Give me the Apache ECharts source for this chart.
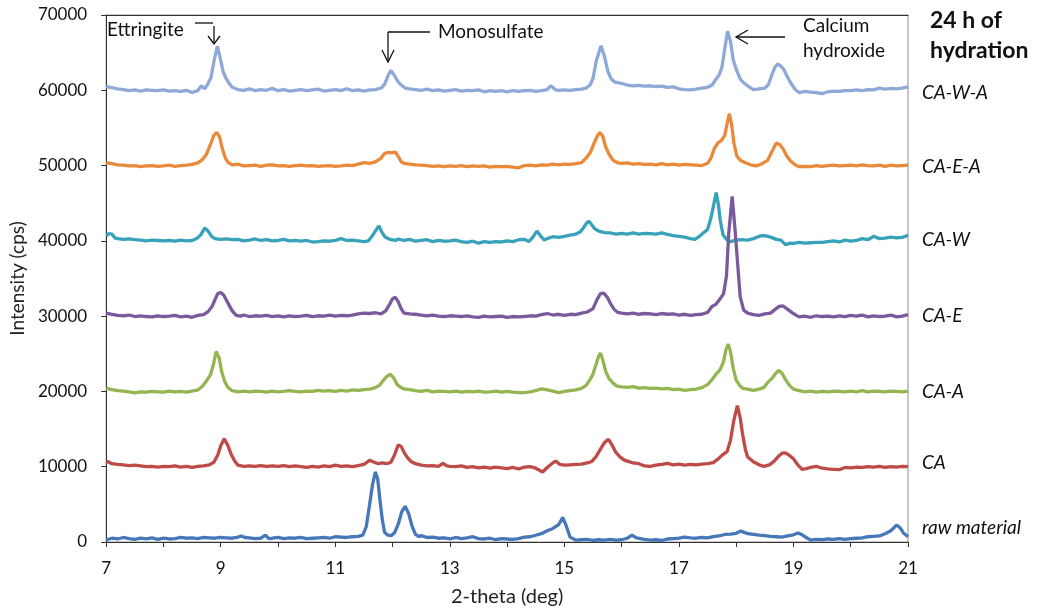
<!DOCTYPE html>
<html>
<head>
<meta charset="utf-8">
<script src="https://cdn.jsdelivr.net/npm/echarts@6/dist/echarts.min.js"></script>
<style>
  html, body { margin: 0; padding: 0; background: #fff; }
  #xrd { width: 1042px; height: 614px; }
</style>
</head>
<body>
<div id="xrd"></div>
<script>
// XRD patterns after 24 h of hydration, [2-theta, cps]
var caWA = [[7.0,60500],[7.1,60350],[7.2,60200],[7.3,60100],[7.4,59950],[7.5,60050],[7.6,59900],[7.7,60050],[7.8,60000],[7.9,59950],[8.0,60050],[8.1,59900],[8.2,59950],[8.3,59850],[8.4,60000],[8.5,59700],[8.6,59950],[8.66,60600],[8.72,60200],[8.78,60900],[8.83,61700],[8.88,63800],[8.94,65850],[8.99,64300],[9.04,62500],[9.09,61600],[9.14,61000],[9.2,60400],[9.3,60100],[9.4,60000],[9.5,60200],[9.6,59950],[9.7,60100],[9.8,60000],[9.9,60250],[10.0,59950],[10.1,60100],[10.2,59900],[10.3,60000],[10.4,60100],[10.5,59950],[10.6,60050],[10.7,60150],[10.8,59900],[10.9,60000],[11.0,60100],[11.1,59950],[11.2,60200],[11.3,59950],[11.4,60050],[11.5,59900],[11.6,60050],[11.7,60100],[11.8,60300],[11.86,60800],[11.92,61900],[11.97,62650],[12.03,62000],[12.09,61200],[12.15,60700],[12.22,60300],[12.3,60200],[12.4,60100],[12.5,60000],[12.6,60150],[12.7,59950],[12.8,60050],[12.9,59900],[13.0,60000],[13.1,60100],[13.2,59900],[13.3,60000],[13.4,59950],[13.5,60050],[13.6,59800],[13.7,59950],[13.8,59850],[13.9,59950],[14.0,59800],[14.1,59950],[14.2,59850],[14.3,59950],[14.4,60000],[14.5,59850],[14.6,59950],[14.7,60100],[14.76,60600],[14.85,60050],[14.9,60000],[15.0,60050],[15.1,60000],[15.2,60100],[15.3,60150],[15.38,60300],[15.45,60700],[15.5,61600],[15.56,64000],[15.64,65900],[15.7,64500],[15.76,62500],[15.82,61500],[15.88,61100],[15.95,61000],[16.0,60900],[16.1,60700],[16.2,60600],[16.3,60650],[16.4,60550],[16.5,60600],[16.6,60500],[16.7,60550],[16.8,60400],[16.9,60450],[17.0,60200],[17.1,60100],[17.2,60050],[17.3,60150],[17.4,60300],[17.5,60400],[17.58,60700],[17.65,61500],[17.7,62000],[17.75,63000],[17.8,65500],[17.85,67850],[17.9,66500],[17.95,64000],[18.0,62800],[18.07,61500],[18.13,61000],[18.2,60600],[18.3,60100],[18.4,60200],[18.5,60300],[18.56,60700],[18.62,62000],[18.68,63100],[18.73,63500],[18.78,63200],[18.83,62800],[18.88,62000],[18.95,61000],[19.03,60100],[19.1,59700],[19.2,59850],[19.3,59750],[19.4,59700],[19.5,59550],[19.6,59800],[19.7,59900],[19.8,59850],[19.9,59950],[20.0,59950],[20.1,60050],[20.2,59950],[20.3,60100],[20.4,60050],[20.5,60300],[20.6,60150],[20.7,60250],[20.8,60200],[20.9,60300],[21.0,60450]];

var caEA = [[7.0,50400],[7.1,50250],[7.2,50100],[7.3,50050],[7.4,49950],[7.5,50000],[7.6,49850],[7.7,49950],[7.8,50000],[7.9,49900],[8.0,49950],[8.1,50050],[8.2,49900],[8.3,50000],[8.4,50050],[8.5,50150],[8.6,50350],[8.68,50800],[8.75,51500],[8.82,52800],[8.88,54000],[8.93,54400],[8.98,53800],[9.03,52200],[9.08,51000],[9.13,50400],[9.2,50100],[9.3,50200],[9.4,49950],[9.5,50000],[9.6,50050],[9.7,49900],[9.8,50050],[9.9,50100],[10.0,49950],[10.1,50000],[10.2,49900],[10.3,50000],[10.4,50050],[10.5,49950],[10.6,50000],[10.7,49900],[10.8,49950],[10.9,50000],[11.0,49900],[11.1,49950],[11.2,50050],[11.3,50000],[11.4,50200],[11.5,50400],[11.6,50300],[11.7,50500],[11.8,51000],[11.86,51600],[11.92,51750],[11.98,51700],[12.05,51800],[12.1,51200],[12.15,50500],[12.2,50300],[12.3,50200],[12.4,50100],[12.5,50050],[12.6,50000],[12.7,49900],[12.8,49950],[12.9,49850],[13.0,49950],[13.1,49900],[13.2,50000],[13.3,49850],[13.4,49950],[13.5,49900],[13.6,49950],[13.7,49800],[13.8,49900],[13.9,49850],[14.0,49900],[14.1,49800],[14.2,49700],[14.3,50000],[14.4,50050],[14.5,49950],[14.6,50100],[14.7,50050],[14.8,50200],[14.9,50100],[15.0,50200],[15.1,50150],[15.2,50250],[15.3,50400],[15.38,51000],[15.45,51700],[15.52,53000],[15.58,54000],[15.62,54400],[15.67,53900],[15.72,52500],[15.78,51500],[15.85,50700],[15.92,50400],[16.0,50300],[16.1,50350],[16.2,50200],[16.3,50250],[16.4,50150],[16.5,50200],[16.6,50100],[16.7,50250],[16.8,50100],[16.9,50200],[17.0,50050],[17.1,50150],[17.2,50100],[17.3,50050],[17.4,50000],[17.5,50300],[17.56,51000],[17.62,52300],[17.68,53000],[17.74,53300],[17.8,54000],[17.84,55500],[17.88,56900],[17.92,55500],[17.96,53000],[18.01,51300],[18.07,50700],[18.15,50400],[18.25,50100],[18.35,49950],[18.45,50250],[18.55,50700],[18.62,51800],[18.7,53000],[18.76,52800],[18.82,52200],[18.88,51300],[18.95,50600],[19.03,50100],[19.1,49850],[19.2,49900],[19.3,49850],[19.4,50000],[19.5,49900],[19.6,50000],[19.7,50050],[19.8,49950],[19.9,50000],[20.0,50050],[20.1,49950],[20.2,50100],[20.3,50000],[20.4,49950],[20.5,50050],[20.6,49900],[20.7,50050],[20.8,49950],[20.9,50000],[21.0,50050]];

var caW = [[7.0,40700],[7.05,40950],[7.1,40900],[7.15,40400],[7.2,40300],[7.3,40200],[7.4,40250],[7.5,40150],[7.6,40100],[7.7,40000],[7.8,40100],[7.9,40050],[8.0,40000],[8.1,40050],[8.2,39950],[8.3,40100],[8.4,40000],[8.5,40050],[8.58,40300],[8.65,40800],[8.72,41700],[8.78,41300],[8.84,40600],[8.9,40300],[9.0,40200],[9.1,40250],[9.2,40150],[9.3,40200],[9.4,40000],[9.5,40100],[9.6,40250],[9.7,40050],[9.8,40150],[9.9,40000],[10.0,40050],[10.1,40200],[10.2,40000],[10.3,40050],[10.4,39950],[10.5,40050],[10.6,39850],[10.7,39900],[10.8,40000],[10.9,39950],[11.0,40050],[11.1,40300],[11.2,40050],[11.3,40100],[11.4,40000],[11.5,39900],[11.58,40000],[11.64,40600],[11.7,41300],[11.76,42000],[11.81,41200],[11.87,40500],[11.95,40200],[12.05,40050],[12.1,40250],[12.2,40050],[12.3,40200],[12.4,39950],[12.5,40050],[12.6,40150],[12.7,39900],[12.8,40050],[12.9,39950],[13.0,40000],[13.1,40100],[13.2,39900],[13.3,39800],[13.4,39950],[13.5,39700],[13.6,39900],[13.7,39800],[13.8,39900],[13.9,39850],[14.0,40000],[14.1,39900],[14.2,40150],[14.3,40200],[14.38,39900],[14.45,40500],[14.52,41300],[14.58,40700],[14.65,40100],[14.7,40300],[14.8,40550],[14.9,40450],[15.0,40600],[15.1,40750],[15.2,40900],[15.28,41200],[15.34,41800],[15.39,42400],[15.43,42600],[15.48,42100],[15.53,41600],[15.6,41300],[15.7,41100],[15.8,41050],[15.9,40900],[16.0,41000],[16.1,40900],[16.2,41050],[16.3,40900],[16.4,41000],[16.5,40950],[16.6,40900],[16.7,41050],[16.8,40850],[16.9,40700],[17.0,40600],[17.1,40500],[17.2,40300],[17.28,40200],[17.35,40550],[17.42,41000],[17.5,41500],[17.55,42800],[17.6,44500],[17.65,46400],[17.69,44800],[17.72,42800],[17.77,40800],[17.83,40200],[17.9,39900],[17.95,40000],[18.0,40100],[18.1,40150],[18.2,40100],[18.3,40300],[18.42,40650],[18.5,40700],[18.6,40500],[18.7,40200],[18.78,40100],[18.86,39500],[18.95,39700],[19.0,39650],[19.1,39800],[19.2,39700],[19.3,39750],[19.4,39800],[19.5,39800],[19.6,39900],[19.7,40000],[19.8,39850],[19.9,40100],[20.0,39950],[20.1,40050],[20.2,40300],[20.3,40150],[20.4,40600],[20.5,40300],[20.6,40350],[20.7,40500],[20.8,40400],[20.9,40450],[21.0,40750]];

var caE = [[7.0,30400],[7.1,30250],[7.2,30100],[7.3,30050],[7.4,30150],[7.5,29950],[7.6,30050],[7.7,29950],[7.8,29900],[7.9,30050],[8.0,29950],[8.1,30000],[8.2,30100],[8.3,29900],[8.4,30000],[8.5,29850],[8.6,30100],[8.7,30200],[8.78,30600],[8.85,31300],[8.9,32200],[8.95,33000],[9.0,33150],[9.05,32800],[9.1,32100],[9.15,31400],[9.2,30700],[9.27,30100],[9.35,30000],[9.4,30150],[9.5,29950],[9.6,30050],[9.7,30000],[9.8,30100],[9.9,29950],[10.0,30050],[10.1,29900],[10.2,30050],[10.3,29950],[10.4,30000],[10.5,30100],[10.6,29950],[10.7,30050],[10.8,30000],[10.9,30150],[11.0,30000],[11.1,30100],[11.2,30050],[11.3,30150],[11.4,30300],[11.5,30400],[11.6,30350],[11.7,30450],[11.8,30300],[11.88,30700],[11.95,31600],[12.0,32300],[12.05,32500],[12.1,31900],[12.15,31000],[12.2,30400],[12.3,30300],[12.4,30250],[12.5,30150],[12.6,30050],[12.7,30150],[12.8,30000],[12.9,29950],[13.0,30050],[13.1,30000],[13.2,29950],[13.3,30050],[13.4,29900],[13.5,29850],[13.6,30000],[13.7,29900],[13.8,29950],[13.9,30000],[14.0,29850],[14.1,29950],[14.2,29900],[14.3,29950],[14.4,30050],[14.5,30000],[14.6,30200],[14.7,30350],[14.8,30150],[14.9,30250],[15.0,30100],[15.1,30250],[15.2,30200],[15.3,30400],[15.4,30550],[15.5,31000],[15.57,32200],[15.63,33000],[15.69,33050],[15.75,32500],[15.81,31600],[15.87,30900],[15.93,30500],[16.0,30400],[16.1,30300],[16.2,30400],[16.3,30250],[16.4,30350],[16.5,30300],[16.6,30200],[16.7,30350],[16.8,30250],[16.9,30300],[17.0,30150],[17.1,30250],[17.2,30100],[17.3,30200],[17.4,30250],[17.5,30500],[17.58,31300],[17.65,31600],[17.72,32300],[17.78,33000],[17.83,35300],[17.87,41000],[17.93,45900],[17.98,41500],[18.02,37500],[18.07,32600],[18.13,30800],[18.2,30400],[18.3,30200],[18.4,30100],[18.5,30300],[18.6,30400],[18.68,30900],[18.75,31300],[18.82,31350],[18.9,30900],[18.97,30500],[19.05,30100],[19.1,29900],[19.2,30000],[19.3,29850],[19.4,30050],[19.5,29950],[19.6,30000],[19.7,29900],[19.8,30050],[19.9,29950],[20.0,30100],[20.1,30000],[20.2,30150],[20.3,29900],[20.4,30050],[20.5,29950],[20.6,30000],[20.7,30150],[20.8,29900],[20.9,30000],[21.0,30200]];

var caA = [[7.0,20400],[7.1,20250],[7.2,20100],[7.3,20050],[7.4,19950],[7.5,19800],[7.6,19950],[7.7,19900],[7.8,20000],[7.9,19950],[8.0,19900],[8.1,20050],[8.2,19950],[8.3,20000],[8.4,19900],[8.5,20050],[8.6,20200],[8.68,20700],[8.76,21500],[8.82,22200],[8.87,23500],[8.92,25300],[8.97,24500],[9.02,22500],[9.07,21300],[9.12,20600],[9.2,20100],[9.3,19950],[9.4,20050],[9.5,19950],[9.6,20050],[9.7,20000],[9.8,19900],[9.9,20050],[10.0,19950],[10.1,20000],[10.2,20100],[10.3,20000],[10.4,19950],[10.5,20050],[10.6,20000],[10.7,20150],[10.8,20050],[10.9,20100],[11.0,20000],[11.1,20150],[11.2,20050],[11.3,20200],[11.4,20150],[11.5,20250],[11.6,20300],[11.7,20500],[11.77,20800],[11.83,21400],[11.9,22000],[11.96,22300],[12.02,21800],[12.08,20900],[12.15,20500],[12.22,20300],[12.3,20250],[12.4,20100],[12.5,20000],[12.6,20150],[12.7,19950],[12.8,20050],[12.9,20000],[13.0,19950],[13.1,20050],[13.2,19900],[13.3,20000],[13.4,19950],[13.5,20050],[13.6,19900],[13.7,19950],[13.8,20050],[13.9,19900],[14.0,20000],[14.1,19900],[14.2,19850],[14.3,19850],[14.4,19950],[14.5,20100],[14.6,20350],[14.7,20200],[14.8,20050],[14.9,19850],[15.0,20000],[15.1,20100],[15.2,20200],[15.3,20400],[15.38,20800],[15.45,21600],[15.5,22300],[15.55,23500],[15.6,24700],[15.63,25100],[15.67,24200],[15.72,22700],[15.78,21700],[15.85,21100],[15.92,20700],[16.0,20600],[16.1,20550],[16.2,20650],[16.3,20450],[16.4,20500],[16.5,20400],[16.6,20450],[16.7,20350],[16.8,20400],[16.9,20250],[17.0,20300],[17.1,20150],[17.2,20250],[17.3,20300],[17.4,20500],[17.5,20900],[17.58,21600],[17.65,22300],[17.72,22900],[17.78,24000],[17.82,25500],[17.86,26300],[17.9,25300],[17.95,23000],[18.0,21500],[18.06,20800],[18.12,20400],[18.2,20300],[18.3,20150],[18.4,20300],[18.48,20500],[18.55,21200],[18.62,21700],[18.68,22300],[18.74,22800],[18.8,22400],[18.86,21600],[18.93,20800],[19.0,20300],[19.1,20100],[19.2,19950],[19.3,20050],[19.4,19900],[19.5,20000],[19.6,19950],[19.7,20050],[19.8,20000],[19.9,19950],[20.0,20050],[20.1,19950],[20.2,20100],[20.3,19950],[20.4,20050],[20.5,20000],[20.6,19950],[20.7,20050],[20.8,20000],[20.9,19950],[21.0,20050]];

var ca = [[7.0,10700],[7.05,10600],[7.1,10400],[7.2,10300],[7.3,10250],[7.4,10150],[7.5,10200],[7.6,10100],[7.7,10000],[7.8,10050],[7.9,9950],[8.0,10050],[8.1,10000],[8.2,10100],[8.3,9950],[8.4,10050],[8.5,9900],[8.6,10050],[8.7,10100],[8.8,10250],[8.88,10600],[8.95,11600],[9.0,12800],[9.06,13700],[9.12,12900],[9.18,11700],[9.24,10800],[9.3,10200],[9.4,10050],[9.5,10100],[9.6,10050],[9.7,10150],[9.8,10050],[9.9,10100],[10.0,10050],[10.1,10150],[10.2,10000],[10.3,10100],[10.4,10000],[10.5,9900],[10.6,10050],[10.7,9950],[10.8,10100],[10.9,10000],[11.0,10200],[11.1,10050],[11.2,10100],[11.3,10000],[11.4,10150],[11.5,10300],[11.6,10850],[11.68,10600],[11.75,10400],[11.82,10500],[11.9,10400],[11.97,10600],[12.03,11500],[12.1,12900],[12.15,12700],[12.2,11900],[12.26,11200],[12.32,10700],[12.4,10400],[12.5,10200],[12.6,10100],[12.7,10150],[12.8,10050],[12.88,10450],[12.95,10100],[13.0,10050],[13.1,10000],[13.2,10100],[13.3,9900],[13.4,10000],[13.5,9850],[13.6,9950],[13.7,9800],[13.8,9950],[13.9,9850],[14.0,9750],[14.1,9900],[14.2,9700],[14.3,9950],[14.4,10000],[14.5,9800],[14.62,9300],[14.7,9900],[14.78,10400],[14.85,10750],[14.92,10300],[15.0,10200],[15.1,10250],[15.2,10300],[15.3,10350],[15.4,10500],[15.48,10700],[15.55,11300],[15.62,12200],[15.7,13200],[15.77,13650],[15.83,12900],[15.9,11900],[15.97,11300],[16.04,10900],[16.1,10750],[16.2,10500],[16.3,10400],[16.4,10100],[16.5,10050],[16.6,10200],[16.7,10300],[16.8,10450],[16.9,10250],[17.0,10350],[17.1,10200],[17.2,10300],[17.3,10250],[17.4,10350],[17.5,10400],[17.6,10550],[17.68,11000],[17.75,11500],[17.84,12000],[17.9,13500],[17.96,16200],[18.02,18100],[18.07,16500],[18.11,14400],[18.16,12300],[18.2,11300],[18.3,10650],[18.4,10250],[18.48,10050],[18.58,10250],[18.66,10700],[18.74,11400],[18.8,11800],[18.86,11850],[18.93,11500],[19.0,11050],[19.08,10200],[19.15,9650],[19.2,9700],[19.3,9900],[19.4,10050],[19.5,9800],[19.6,9700],[19.7,9650],[19.8,9600],[19.9,9900],[20.0,9850],[20.1,9950],[20.2,9900],[20.3,10000],[20.4,9950],[20.5,10050],[20.6,9900],[20.7,10000],[20.8,9950],[20.9,10050],[21.0,10000]];

var raw = [[7.0,300],[7.1,500],[7.2,400],[7.3,600],[7.4,450],[7.5,350],[7.6,500],[7.7,400],[7.8,550],[7.9,350],[8.0,500],[8.1,400],[8.2,450],[8.3,600],[8.4,500],[8.5,550],[8.6,450],[8.7,600],[8.8,550],[8.9,500],[9.0,600],[9.1,550],[9.2,500],[9.3,650],[9.36,800],[9.42,600],[9.5,550],[9.6,450],[9.7,500],[9.78,900],[9.84,450],[9.9,500],[10.0,600],[10.1,450],[10.2,550],[10.3,500],[10.4,600],[10.5,450],[10.6,500],[10.7,550],[10.8,600],[10.9,500],[11.0,700],[11.1,650],[11.2,600],[11.3,700],[11.4,750],[11.48,900],[11.54,2000],[11.6,5000],[11.65,7600],[11.7,9300],[11.74,8400],[11.78,5600],[11.82,3000],[11.86,1300],[11.92,900],[11.98,850],[12.04,1300],[12.1,2400],[12.16,4000],[12.22,4750],[12.28,3800],[12.34,2100],[12.4,1000],[12.46,700],[12.5,850],[12.6,600],[12.7,650],[12.8,500],[12.9,550],[13.0,400],[13.1,600],[13.2,450],[13.3,550],[13.4,700],[13.5,450],[13.6,400],[13.7,500],[13.8,300],[13.9,450],[14.0,400],[14.1,350],[14.2,450],[14.3,650],[14.4,700],[14.5,900],[14.6,1100],[14.7,1500],[14.8,1800],[14.9,2300],[14.97,3250],[15.03,2200],[15.1,650],[15.2,250],[15.3,300],[15.4,350],[15.5,200],[15.6,300],[15.7,250],[15.8,350],[15.9,250],[16.0,300],[16.1,500],[16.18,900],[16.26,550],[16.4,350],[16.5,250],[16.6,300],[16.7,200],[16.8,400],[16.9,450],[17.0,500],[17.1,650],[17.2,550],[17.3,500],[17.4,600],[17.5,550],[17.6,700],[17.7,800],[17.8,1000],[17.9,1050],[18.0,1150],[18.08,1450],[18.15,1250],[18.2,1100],[18.3,1000],[18.4,900],[18.5,850],[18.6,750],[18.7,700],[18.8,650],[18.9,800],[19.0,950],[19.08,1200],[19.15,950],[19.2,700],[19.3,250],[19.4,350],[19.5,300],[19.6,400],[19.7,350],[19.8,450],[19.9,350],[20.0,450],[20.1,500],[20.2,550],[20.3,700],[20.4,750],[20.5,800],[20.6,1100],[20.7,1500],[20.8,2250],[20.86,1900],[20.92,1200],[21.0,700]];

var seriesNames = ['CA-W-A', 'CA-E-A', 'CA-W', 'CA-E', 'CA-A', 'CA', 'raw material'];
var seriesData = [caWA, caEA, caW, caE, caA, ca, raw];
var colors = ['#8EA9D8', '#E98A3B', '#38A2BA', '#7A5A9C', '#94B652', '#BE4B48', '#4677B8'];
var labelY = [93, 167, 240, 316, 392, 463, 528];
var xTicks = [7, 9, 11, 13, 15, 17, 19, 21];

var FONT = 'Lato';

var series = seriesData.map(function(d, i) {
  return {
    name: seriesNames[i],
    type: 'line',
    data: d,
    showSymbol: false,
    silent: true,
    lineStyle: { color: colors[i], width: 3.3 },
    itemStyle: { color: colors[i] }
  };
});

function txt(s, x, y, font) {
  return { type: 'text', x: x, y: y, style: { text: s, font: font, fill: '#111', verticalAlign: 'middle' } };
}
function line(x1, y1, x2, y2) {
  return { type: 'line', shape: { x1: x1, y1: y1, x2: x2, y2: y2 }, style: { stroke: '#111', lineWidth: 1.3 } };
}
function head(pts) {
  return { type: 'polyline', shape: { points: pts }, style: { stroke: '#111', lineWidth: 1.3, fill: null } };
}

var graphics = seriesNames.map(function(n, i) {
  return txt(n, 922, labelY[i], 'italic 19px ' + FONT);
});

graphics = graphics.concat([
  txt('24 h of', 930, 21, 'bold 23px ' + FONT),
  txt('hydration', 930, 51, 'bold 23px ' + FONT),
  txt('Ettringite', 107, 30, '19px ' + FONT),
  line(195, 23, 213, 23), line(214, 26, 214, 44), head([[208, 36], [214, 44], [220, 36]]),
  txt('Monosulfate', 438, 32, '19px ' + FONT),
  line(388, 32, 430, 32), line(388, 32, 388, 62), head([[382, 50], [388, 62], [394, 50]]),
  txt('Calcium', 803, 26, '19px ' + FONT),
  txt('hydroxide', 803, 51, '19px ' + FONT),
  line(736, 37, 785, 37), head([[748, 30], [736, 37], [748, 44]])
]);

var chart = echarts.init(document.getElementById('xrd'));
chart.setOption({
  animation: false,
  color: colors,
  grid: { left: 104, right: 134, top: 15, bottom: 72, show: true, borderColor: '#8c8c8c', borderWidth: 1 },
  xAxis: [{
    type: 'value', min: 7, max: 21, interval: 1,
    name: '2-theta (deg)', nameLocation: 'middle', nameGap: 45,
    nameTextStyle: { fontFamily: FONT, fontSize: 20, color: '#222' },
    axisLine: { lineStyle: { color: '#333' } },
    axisTick: { show: true, length: 5, lineStyle: { color: '#333' } },
    axisLabel: {
      fontFamily: FONT, fontSize: 17, color: '#111', margin: 18,
      formatter: function(v) { return xTicks.indexOf(v) >= 0 ? String(v) : ''; }
    },
    splitLine: { show: false }
  }, {
    type: 'value', min: 7, max: 21, position: 'top',
    axisLine: { show: true, lineStyle: { color: '#333' } },
    axisTick: { show: false }, axisLabel: { show: false }, splitLine: { show: false }
  }],
  yAxis: {
    type: 'value', min: 0, max: 70000, interval: 10000,
    name: 'Intensity (cps)', nameLocation: 'middle', nameGap: 68, nameRotate: 90,
    nameTextStyle: { fontFamily: FONT, fontSize: 19, color: '#222' },
    axisLine: { show: true, lineStyle: { color: '#333' } },
    axisTick: { show: true, length: 5, lineStyle: { color: '#333' } },
    axisLabel: {
      fontFamily: FONT, fontSize: 17, color: '#111', margin: 19,
      formatter: function(v) { return String(v); }
    },
    splitLine: { show: false }
  },
  series: series,
  graphic: graphics
});
</script>
</body>
</html>
